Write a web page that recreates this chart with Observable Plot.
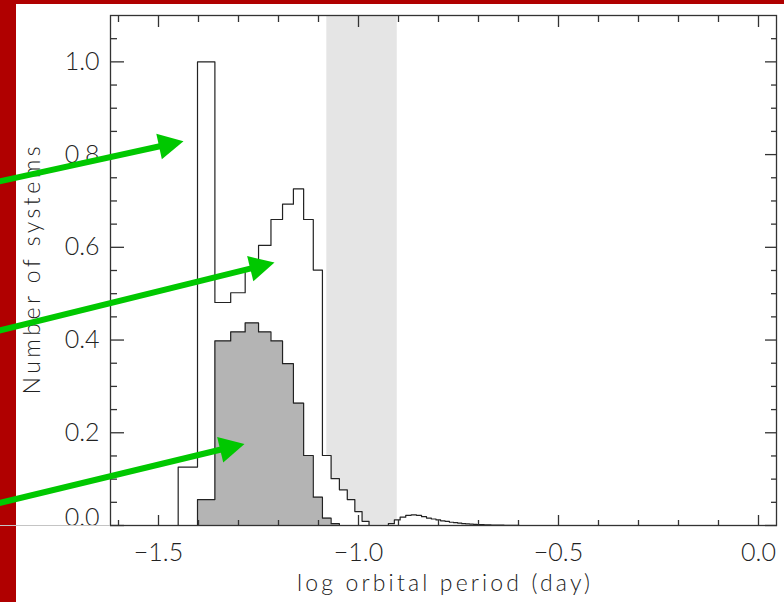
<!DOCTYPE html>
<html><head><meta charset="utf-8">
<script src="https://cdn.jsdelivr.net/npm/d3@7"></script>
<script src="https://cdn.jsdelivr.net/npm/@observablehq/plot@0.6"></script>
<style>
html,body{margin:0;padding:0;background:#b00000;}
#wrap{position:relative;width:784px;height:602px;overflow:hidden;background:#b00000;}
#paper{position:absolute;left:16px;top:4px;right:0;bottom:0;background:#fff;}
#chart{position:absolute;left:0;top:0;}
</style></head><body>
<div id="wrap"><div id="paper"></div><div id="chart"></div></div>
<script>
// ---- data ----
const binHours = [0.9,1.0,1.1,1.2,1.3,1.4,1.5,1.6,1.7,1.8,1.9,2.0,2.1,2.2,2.3,2.4,2.5,2.6,2.7,2.8,2.9,3.0,
  3.1,3.2,3.3,3.4,3.5,3.6,3.7,3.8,3.9,4.0,4.1,4.2,4.3,4.4,4.5,4.6,4.7,4.8,4.9,5.0,5.1,5.2,5.3,5.4,5.5,5.6,5.7,5.8,5.9,6.0];
const allSystems = [0.126,1.000,0.481,0.502,0.550,0.604,0.660,0.693,0.726,0.660,0.551,0.151,0.101,0.077,0.056,0.030,0.009,0,0,0,0.004,0.012,
  0.018,0.022,0.023,0.022,0.019,0.016,0.014,0.012,0.010,0.009,0.007,0.006,0.005,0.004,0.0035,0.003,0.0025,0.002,0.002,0.0015,0.0012,0.001,0.001,0.0008,0.0006,0.0005,0.0004,0.0003,0.0002,0.0001];
const subsetHours = [1.0,1.1,1.2,1.3,1.4,1.5,1.6,1.7,1.8,1.9,2.0,2.1];
const subsetSystems = [0.056,0.398,0.4175,0.437,0.4175,0.398,0.349,0.264,0.151,0.061,0.016,0.004];
const gapHours = [2, 3];
const xMajorTicks = [-1.5,-1.0,-0.5,0.0];
const xMinorTicks = [-1.6,-1.4,-1.3,-1.2,-1.1,-0.9,-0.8,-0.7,-0.6,-0.4,-0.3,-0.2,-0.1];
const yMajorTicks = [0,0.2,0.4,0.6,0.8,1.0];
const yMinorTicks = [0.05,0.1,0.15,0.25,0.3,0.35,0.45,0.5,0.55,0.65,0.7,0.75,0.85,0.9,0.95,1.05];
const yLabelTicks = [0.2,0.4,0.6,0.8,1.0];
const arrowStartX = [-1.91,-1.91,-1.91];
const arrowStartY = [0.740,0.418,0.046];
const arrowTipX = [-1.4375,-1.21,-1.285];
const arrowTipY = [0.829,0.567,0.176];
const xTitle = "log orbital period (day)";
const yTitle = "Number of systems";

// ---- layout ----
const W = 784, H = 602, mL = 110, mR = 8, mT = 15, mB = 77;
const xDomain = [-1.62, 0.045], yDomain = [0, 1.1];
const binW = 0.1;
const green = "#00c800", ink = "#222";
const headLen = 25, headHalf = 13;

function steps(hours, vals) {
  const pts = [];
  hours.forEach((h, i) => {
    const a = Math.log10((h - binW / 2) / 24), b = Math.log10((h + binW / 2) / 24);
    if (i === 0) pts.push({x: a, y: 0});
    pts.push({x: a, y: vals[i]}, {x: b, y: vals[i]});
    if (i === hours.length - 1) pts.push({x: b, y: 0});
  });
  return pts;
}
const allPts = steps(binHours, allSystems);
const subPts = steps(subsetHours, subsetSystems);

const sx = Plot.scale({x: {domain: xDomain, range: [mL, W - mR]}});
const sy = Plot.scale({y: {domain: yDomain, range: [H - mB, mT]}});
const shafts = [], heads = [];
arrowTipX.forEach((tx, i) => {
  const x0 = sx.apply(arrowStartX[i]), y0 = sy.apply(arrowStartY[i]);
  const x1 = sx.apply(tx), y1 = sy.apply(arrowTipY[i]);
  const L = Math.hypot(x1 - x0, y1 - y0), ux = (x1 - x0) / L, uy = (y1 - y0) / L;
  const bx = x1 - headLen * ux, by = y1 - headLen * uy, nx = -uy, ny = ux;
  shafts.push({x1: arrowStartX[i], y1: arrowStartY[i], x2: sx.invert(bx + 2 * ux), y2: sy.invert(by + 2 * uy)});
  [[x1, y1], [bx + headHalf * nx, by + headHalf * ny], [bx - headHalf * nx, by - headHalf * ny], [x1, y1]]
    .forEach(([px, py]) => heads.push({id: i, x: sx.invert(px), y: sy.invert(py)}));
});

const fmt = d3.format(".1f");
const plot = Plot.plot({
  width: W, height: H,
  marginLeft: mL, marginRight: mR, marginTop: mT, marginBottom: mB,
  style: {background: "transparent", fontFamily: "Lato, 'DejaVu Sans', sans-serif", fontWeight: 300, fontSize: "25px", color: ink},
  x: {domain: xDomain, label: null},
  y: {domain: yDomain, label: null},
  marks: [
    Plot.rect([gapHours], {x1: d => Math.log10(d[0] / 24), x2: d => Math.log10(d[1] / 24), fill: "#e5e5e5"}),
    Plot.area(allPts, {x1: "x", y1: 0, y2: "y", fill: "white"}),
    Plot.line(allPts, {x: "x", y: "y", stroke: ink, strokeWidth: 1.2}),
    Plot.area(subPts, {x1: "x", y1: 0, y2: "y", fill: "#b4b4b4"}),
    Plot.line(subPts, {x: "x", y: "y", stroke: ink, strokeWidth: 1.2}),
    Plot.frame({stroke: "#333", strokeWidth: 1.3}),
    // inward ticks
    Plot.axisX(xMajorTicks, {anchor: "bottom", tickSize: 10, dy: -10, fill: "none", stroke: "#333", strokeWidth: 1.3}),
    Plot.axisX(xMinorTicks, {anchor: "bottom", tickSize: 5, dy: -5, fill: "none", stroke: "#333", strokeWidth: 1.3}),
    Plot.axisX(xMajorTicks, {anchor: "top", tickSize: 11, dy: 11, fill: "none", stroke: "#333", strokeWidth: 1.3}),
    Plot.axisX(xMinorTicks, {anchor: "top", tickSize: 6, dy: 6, fill: "none", stroke: "#333", strokeWidth: 1.3}),
    Plot.axisY(yMajorTicks, {anchor: "left", tickSize: 14, dx: 14, fill: "none", stroke: "#333", strokeWidth: 1.3}),
    Plot.axisY(yMinorTicks, {anchor: "left", tickSize: 7, dx: 7, fill: "none", stroke: "#333", strokeWidth: 1.3}),
    Plot.axisY(yMajorTicks, {anchor: "right", tickSize: 12, dx: -12, fill: "none", stroke: "#333", strokeWidth: 1.3}),
    Plot.axisY(yMinorTicks, {anchor: "right", tickSize: 6, dx: -6, fill: "none", stroke: "#333", strokeWidth: 1.3}),
    // labels
    Plot.axisX(xMajorTicks, {anchor: "bottom", tickSize: 0, tickPadding: 18, tickFormat: fmt, fontSize: 25, fill: ink, label: null}),
    Plot.axisY(yLabelTicks, {anchor: "left", tickSize: 0, tickPadding: 11, tickFormat: fmt, fontSize: 25, fill: ink, label: null}),
    Plot.axisY([0], {anchor: "left", tickSize: 0, tickPadding: 11, dy: -8, tickFormat: fmt, fontSize: 25, fill: ink, label: null}),
    Plot.text([xTitle], {text: d => d, frameAnchor: "bottom", textAnchor: "middle", dy: 65, fontSize: 23, fill: ink}),
    Plot.text([yTitle], {text: d => d, frameAnchor: "left", textAnchor: "middle", rotate: -90, dx: -78, fontSize: 23, fill: ink}),
    // slide overlay
    Plot.ruleY([0], {x1: sx.invert(0), x2: xDomain[0], stroke: "#c4c4c4", strokeWidth: 1}),
    Plot.link(shafts, {x1: "x1", y1: "y1", x2: "x2", y2: "y2", stroke: green, strokeWidth: 6}),
    Plot.line(heads, {x: "x", y: "y", z: "id", fill: green, stroke: "none"})
  ]
});
document.getElementById("chart").appendChild(plot);
plot.querySelectorAll("text").forEach(t => {
  if (t.textContent === xTitle) { t.setAttribute("textLength", 293); t.setAttribute("lengthAdjust", "spacing"); }
  if (t.textContent === yTitle) { t.setAttribute("textLength", 248); t.setAttribute("lengthAdjust", "spacing"); }
});
</script>
</body></html>
